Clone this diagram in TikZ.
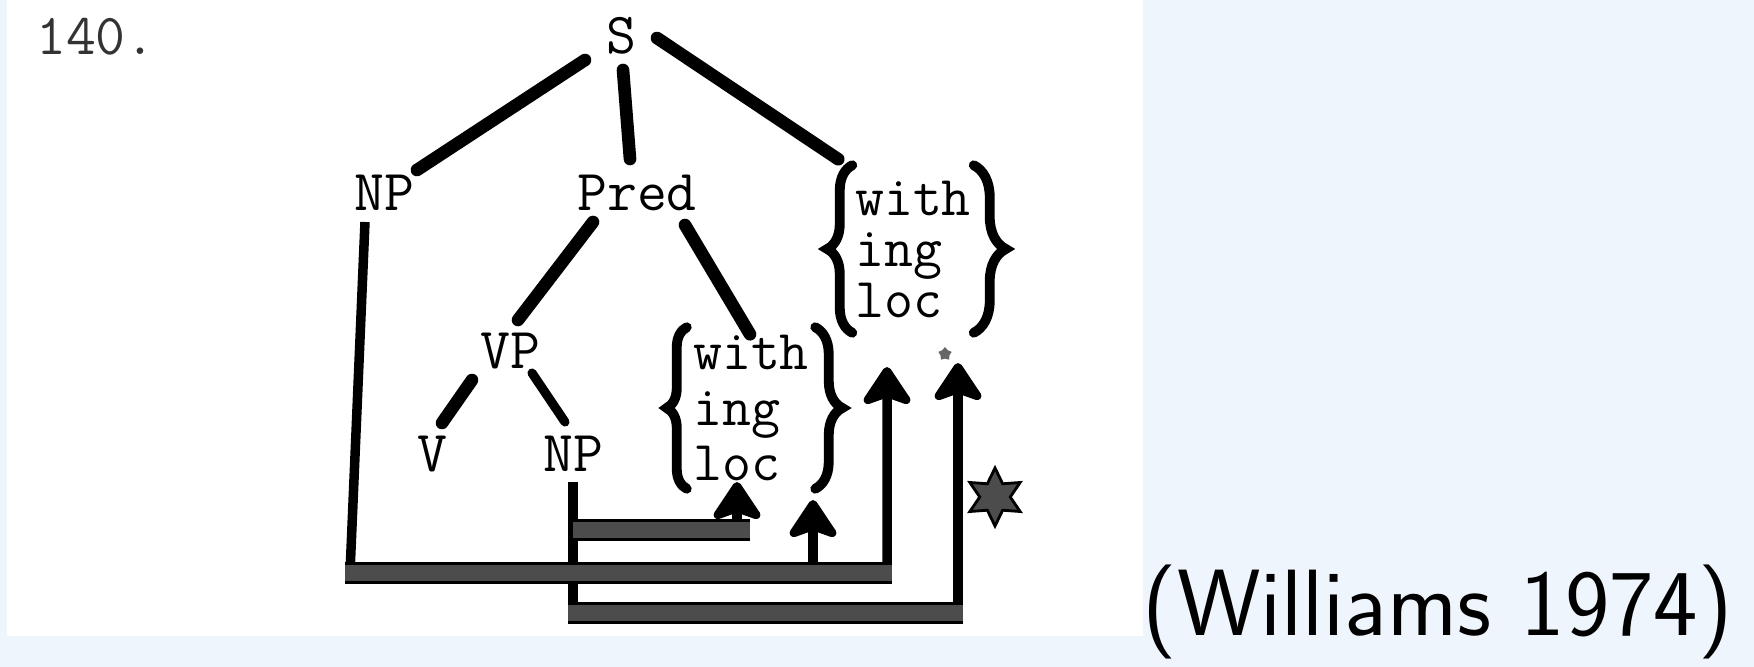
\documentclass[tikz,border=0pt]{standalone}
\usepackage{fontspec}
\usetikzlibrary{arrows.meta,decorations.pathreplacing,shapes.geometric}
\definecolor{bgblue}{HTML}{EEF5FC}
\begin{document}
\begin{tikzpicture}[x=0.01cm,y=-0.01cm,
  lbl/.style={font=\fontsize{16.5}{14.2}\selectfont\ttfamily,inner sep=0pt,text height=0.33cm,text depth=0cm},
  grp/.style={font=\fontsize{16}{#1}\selectfont\ttfamily,align=left,inner sep=0pt},
  branch/.style={line width=3.6pt,line cap=round},
  wire/.style={line width=2.7pt},
  band/.style={line width=0.8pt,double=black!70,double distance=4.6pt},
  brc/.style={line width=2.8pt,line cap=round,decorate,decoration={brace,amplitude=#1}},
  uparrow/.style={-{Stealth[length=0.44cm,width=0.58cm,inset=0.1cm,round]}}
]
\fill[bgblue] (0,0) rectangle (1754,667);
\fill[white] (7,0) rectangle (1143,636);
\useasboundingbox (0,0) rectangle (1754,667);
\coordinate (tipA) at (737,482);
\coordinate (tipB) at (813,500);
\coordinate (tipC) at (887,367);
\coordinate (tipD) at (958,363);
\coordinate (c1) at (350,573);
\coordinate (c2) at (573,530);
\coordinate (c3) at (573,613);
\node[lbl,text=black!80] (num) at (96,38) {140.};
\node[lbl] (S) at (621,37) {S};
\node[lbl] (NP1) at (384,194) {NP};
\node[lbl] (Pred) at (637,194) {Pred};
\node[lbl] (VP) at (510,352) {VP};
\node[lbl] (V) at (432,455) {V};
\node[lbl] (NP2) at (573,455) {NP};
\node[grp=14.5,minimum width=1.2cm,minimum height=1.66cm] (locU) at (913,249) {with\\ing\\loc};
\node[grp=15.8,minimum width=1.27cm,minimum height=1.6cm] (locL) at (751,408) {with\\ing\\loc};
\draw[branch] ([shift={(-36,23)}]S.center) -- ([shift={(33,-24)}]NP1.center);
\draw[branch] ([shift={(2,33)}]S.center) -- ([shift={(-7,-35)}]Pred.center);
\draw[branch] ([shift={(36,1)}]S.center) -- ([shift={(-14,-6)}]locU.north west);
\draw[branch] ([shift={(-44,28)}]Pred.center) -- ([shift={(8,-32)}]VP.center);
\draw[branch] ([shift={(48,31)}]Pred.center) -- ([shift={(-1,7)}]locL.north);
\draw[branch] ([shift={(-38,28)}]VP.center) -- ([shift={(10,-32)}]V.center);
\draw[branch,line width=2.6pt] ([shift={(22,21)}]VP.center) -- ([shift={(-8,-33)}]NP2.center);
\draw[brc=0.25cm] (locU.south west) -- (locU.north west);
\draw[brc=0.32cm] (locU.north east) -- (locU.south east);
\draw[brc=0.2cm] (locL.south west) -- (locL.north west);
\draw[brc=0.27cm] (locL.north east) -- (locL.south east);
\draw[wire,uparrow] ([shift={(-19,28)}]NP1.center) -- (c1) -- (c1 -| tipC) -- (tipC);
\draw[wire,uparrow] (NP2.south) ++(0,10) -- (c2) -- (c2 -| tipA) -- (tipA);
\draw[wire,uparrow] (NP2.south) ++(0,10) -- (c3) -- (c3 -| tipD) -- (tipD);
\draw[wire,uparrow] (tipB |- c1) -- (tipB);
\draw[band] (c2) -- ([xshift=0.13cm]c2 -| tipA);
\draw[band] ([xshift=-0.05cm]c1) -- ([xshift=0.05cm]c1 -| tipC);
\draw[band] ([xshift=-0.05cm]c3) -- ([xshift=0.05cm]c3 -| tipD);
\node[star,star points=6,star point ratio=1.9,minimum size=0.58cm,inner sep=0pt,fill=black!70,draw=black,line width=0.8pt] (mark) at (995,497) {};
\node[star,star points=5,minimum size=0.14cm,inner sep=0pt,fill=black!60] (speck) at (945,354) {};
\node[anchor=base east,font=\fontsize{26.8}{32}\selectfont\sffamily] (cite) at (1745,635) {(Williams 1974)};
\end{tikzpicture}
\end{document}
